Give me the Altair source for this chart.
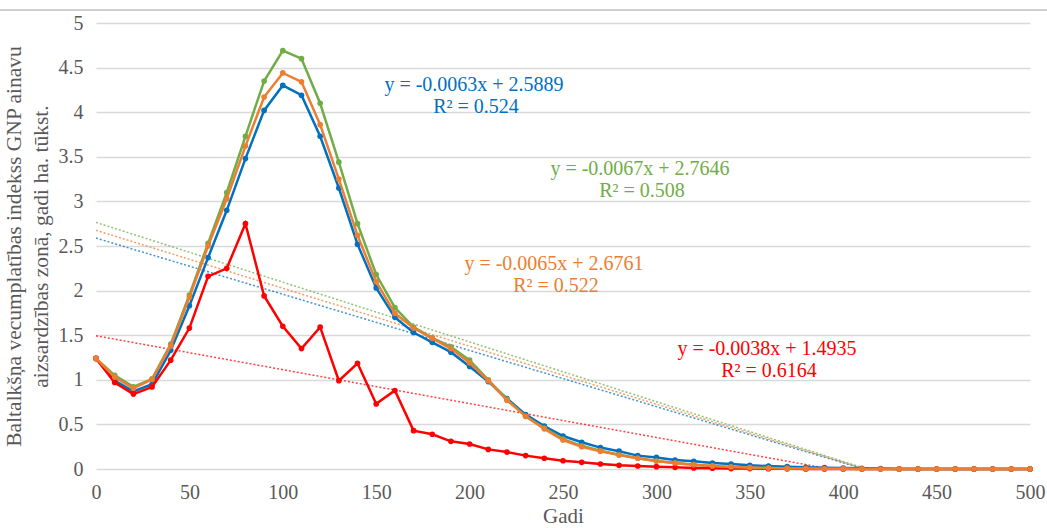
import altair as alt
import pandas as pd

years = list(range(0, 510, 10))

blue = [1.24, 0.99, 0.87, 0.95, 1.33, 1.83, 2.37, 2.90, 3.48, 4.02, 4.30, 4.19, 3.73, 3.15,
        2.52, 2.03, 1.70, 1.53, 1.42, 1.31, 1.15, 0.98, 0.79, 0.61, 0.48, 0.37, 0.30, 0.24,
        0.20, 0.15, 0.13, 0.10, 0.086, 0.067, 0.056, 0.041, 0.033, 0.026, 0.02, 0.015, 0.011,
        0.008, 0.005, 0, 0, 0, 0, 0, 0, 0, 0]
orange = [1.24, 1.03, 0.905, 1.005, 1.38, 1.925, 2.50, 3.03, 3.62, 4.17, 4.44, 4.34, 3.86, 3.25,
          2.62, 2.10, 1.745, 1.58, 1.465, 1.35, 1.19, 0.99, 0.77, 0.59, 0.45, 0.325, 0.25, 0.20,
          0.157, 0.12, 0.09, 0.067, 0.048, 0.034, 0.022, 0.015, 0.01, 0.007, 0.005, 0.003, 0.002,
          0.001, 0, 0, 0, 0, 0, 0, 0, 0, 0]
green = [1.24, 1.05, 0.92, 1.01, 1.40, 1.95, 2.53, 3.10, 3.73, 4.35, 4.69, 4.60, 4.10, 3.44,
         2.75, 2.18, 1.81, 1.59, 1.47, 1.37, 1.22, 1.00, 0.78, 0.59, 0.46, 0.335, 0.26, 0.205,
         0.16, 0.12, 0.09, 0.068, 0.049, 0.035, 0.023, 0.016, 0.011, 0.008, 0.005, 0.003, 0.002,
         0.001, 0, 0, 0, 0, 0, 0, 0, 0, 0]
red = [1.24, 0.97, 0.84, 0.92, 1.22, 1.58, 2.16, 2.25, 2.75, 1.94, 1.60, 1.35, 1.59, 0.99,
       1.185, 0.73, 0.88, 0.43, 0.39, 0.31, 0.28, 0.22, 0.19, 0.15, 0.12, 0.093, 0.075, 0.056,
       0.041, 0.034, 0.026, 0.019, 0.012, 0.008, 0.005, 0.005, 0.003, 0.002, 0.001, 0, 0, 0,
       0, 0, 0, 0, 0, 0, 0, 0, 0]

series_names = ["blue", "green", "red", "orange"]
series_values = {"blue": blue, "green": green, "red": red, "orange": orange}
series_colors = {"blue": "#0070C0", "green": "#70AD47", "red": "#FF0000", "orange": "#ED7D31"}

# trendline parameters (slope, intercept, R²)
trend_slope = {"blue": -0.0063, "green": -0.0067, "red": -0.0038, "orange": -0.0065}
trend_intercept = {"blue": 2.5889, "green": 2.7646, "red": 1.4935, "orange": 2.6761}
trend_r2 = {"blue": "0.524", "green": "0.508", "red": "0.6164", "orange": "0.522"}

y_ticks = [0, 0.5, 1, 1.5, 2, 2.5, 3, 3.5, 4, 4.5, 5]
x_ticks = list(range(0, 550, 50))

FONT = "Liberation Serif, Times New Roman, serif"
W, H = 934, 446

x_scale = alt.Scale(domain=[0, 500], nice=False)
y_scale = alt.Scale(domain=[0, 5], nice=False)

x_axis = alt.Axis(values=x_ticks, title="Gadi", grid=False, ticks=False, domain=False,
                  labelFlush=False,
                  labelPadding=13, labelFontSize=20, labelColor="#595959", labelFont=FONT,
                  titleFont=FONT, titleFontSize=21, titleFontWeight="normal",
                  titleColor="#595959", titlePadding=3)
y_axis = alt.Axis(values=y_ticks, format=".2~f", ticks=False, domain=False,
                  labelFlush=False,
                  gridColor="#d9d9d9", gridWidth=1.3,
                  labelPadding=13, labelFontSize=20, labelColor="#595959", labelFont=FONT,
                  title=["Baltalkšņa vecumplatības indekss GNP ainavu",
                         "aizsardzības zonā, gadi ha. tūkst."],
                  titleFont=FONT, titleFontSize=21.5, titleFontWeight="normal",
                  titleColor="#595959", titlePadding=6, titleLineHeight=27)

layers = []

# base with axes
axis_df = pd.DataFrame({"x": [0], "y": [0]})
layers.append(alt.Chart(axis_df).mark_point(opacity=0).encode(
    x=alt.X("x:Q", scale=x_scale, axis=x_axis),
    y=alt.Y("y:Q", scale=y_scale, axis=y_axis),
))

# trendlines
for s in series_names:
    a, b = trend_slope[s], trend_intercept[s]
    x_end = min(500.0, -b / a)
    tdf = pd.DataFrame({"x": [0, x_end], "y": [b, a * x_end + b]})
    layers.append(alt.Chart(tdf).mark_line(
        color=series_colors[s], strokeWidth=1.5, strokeDash=[2, 2], opacity=0.75
    ).encode(x=alt.X("x:Q", scale=x_scale), y=alt.Y("y:Q", scale=y_scale)))

# data lines
for s in series_names:
    df = pd.DataFrame({"x": years, "y": series_values[s]})
    layers.append(alt.Chart(df).mark_line(
        color=series_colors[s], strokeWidth=2.5,
        point=alt.OverlayMarkDef(filled=True, size=32, color=series_colors[s], opacity=1)
    ).encode(x=alt.X("x:Q", scale=x_scale), y=alt.Y("y:Q", scale=y_scale)))

# annotation text positions (pixels in plot area)
label_pos = {"blue": (378, 62), "green": (544, 146), "orange": (458, 241), "red": (671, 326)}
for s in series_names:
    a, b = trend_slope[s], trend_intercept[s]
    eq = f"y = {a:.4f}x + {b:.4f}"
    r2 = f"R² = {trend_r2[s]}"
    px, py = label_pos[s]
    tdf = pd.DataFrame({"t": [eq]})
    layers.append(alt.Chart(tdf).mark_text(
        font=FONT, fontSize=20, color=series_colors[s], align="center", baseline="middle"
    ).encode(text="t:N", x=alt.value(px), y=alt.value(py)))
    tdf2 = pd.DataFrame({"t": [r2]})
    layers.append(alt.Chart(tdf2).mark_text(
        font=FONT, fontSize=20, color=series_colors[s], align="center", baseline="middle"
    ).encode(text="t:N", x=alt.value(px + 2), y=alt.value(py + 22)))

# top border line
layers.append(alt.Chart(axis_df).mark_rule(color="#c0c0c0", strokeWidth=1.3).encode(
    x=alt.value(-96), x2=alt.value(951), y=alt.value(-13)))

chart = alt.layer(*layers).properties(
    width=W, height=H,
    autosize=alt.AutoSizeParams(type="none"),
    padding={"left": 96, "top": 23, "right": 17, "bottom": 59},
    background="white",
).configure_view(stroke=None)

chart.save("out.html", embed_options={"renderer": "svg", "actions": False})
